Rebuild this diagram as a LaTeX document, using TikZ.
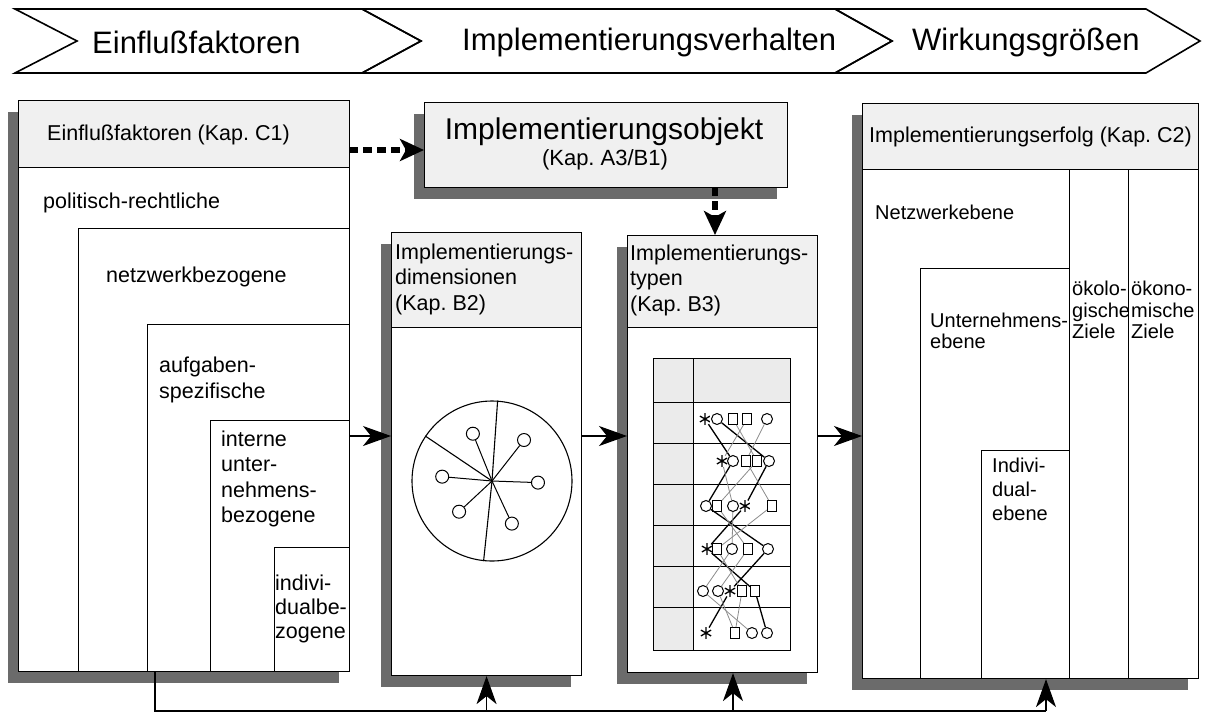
\documentclass[tikz,border=0pt]{standalone}
\usepackage{fontspec}
\setmainfont{Liberation Sans}
\usetikzlibrary{arrows.meta}
\usetikzlibrary{shadows}

\tikzset{
  kasten/.style={draw, line width=1.1pt, fill=white, inner sep=0pt, anchor=north west,
    drop shadow={shadow xshift=-11pt, shadow yshift=-11pt, fill=black!58, opacity=1}},
  kopf/.style={draw, line width=1.1pt, fill=black!6, inner sep=0pt, anchor=north west},
  feld/.style={draw, line width=1.1pt, inner sep=0pt, anchor=north west},
  titel/.style={inner sep=0pt, anchor=west, font=\fontsize{31}{31}\selectfont},
  txt/.style={inner sep=0pt, anchor=west, align=left, font=\fontsize{21.5}{25.5}\selectfont},
  txtr/.style={inner sep=0pt, anchor=west, align=left, font=\fontsize{20}{21.5}\selectfont},
  pfeil/.style={line width=1.2pt, -{Stealth[length=28pt,width=20pt,inset=8pt]}},
  strich/.style={line width=6pt, dash pattern=on 9pt off 5pt, -{Stealth[length=24pt,width=22pt,inset=6pt]}},
  linie/.style={line width=1.2pt},
  sat/.style={circle, draw, line width=1pt, fill=white, inner sep=0pt, minimum size=13pt},
  symk/.style={circle, draw, line width=1pt, fill=white, inner sep=0pt, minimum size=11pt},
  symq/.style={rectangle, draw, line width=1pt, fill=white, inner sep=0pt, minimum width=9pt, minimum height=11pt},
  syms/.style={circle, inner sep=0pt, minimum size=12pt, path picture={
    \draw[line width=1.3pt] (path picture bounding box.center) +(90:6pt) -- +(270:6pt)
      +(30:6pt) -- +(210:6pt) +(150:6pt) -- +(330:6pt);}},
  dick/.style={line width=1.3pt, black},
  duenn/.style={line width=0.8pt, black!45}
}

\begin{document}
\begin{tikzpicture}[x=1pt,y=-1pt]
\useasboundingbox (0,0) rectangle (1205,716);
% draw banner
\draw[line width=1.6pt] (15,9) -- (362,9) -- (421,41) -- (362,73) -- (15,73) -- (77,41) -- cycle;
\draw[line width=1.6pt] (362,9) -- (835,9) -- (892,41) -- (835,73) -- (362,73) -- (421,41) -- cycle;
\draw[line width=1.6pt] (835,9) -- (1146,9) -- (1200,41) -- (1146,73) -- (835,73) -- (892,41) -- cycle;
\node[titel] (b1) at (92,42) {Einflußfaktoren};
\node[titel] (b2) at (462,42) {Implementierungsverhalten};
\node[titel] (b3) at (912,42) {Wirkungsgrößen};

% left box
\node[kasten, minimum width=331pt, minimum height=571pt] (einfl) at (18,100) {};
\node[kopf, minimum width=331pt, minimum height=67pt] (einflkopf) at (18,100) {};
\node[feld, minimum width=271pt, minimum height=443pt] (netz) at (78,228) {};
\node[feld, minimum width=202pt, minimum height=347pt] (aufg) at (147,324) {};
\node[feld, minimum width=139pt, minimum height=251pt] (intern) at (210,420) {};
\node[feld, minimum width=75pt, minimum height=124pt] (indiv) at (274,547) {};
\node[txt] (t1) at (47,135) {Einflußfaktoren (Kap.\ C1)};
\node[txt] (t2) at (43,203) {politisch-rechtliche};
\node[txt] (t3) at (106,277) {netzwerkbezogene};
\node[txt] (t4) at (159,380) {aufgaben-\\spezifische};
\node[txt] (t5) at (221,479) {interne\\unter-\\nehmens-\\bezogene};
\node[txt, font=\fontsize{21.5}{24}\selectfont] (t6) at (275,609) {indivi-\\dualbe-\\zogene};

% object box
\node[kasten, fill=black!6, minimum width=363pt, minimum height=85pt] (objekt) at (424,102) {};
\node[inner sep=0pt, font=\fontsize{30}{30}\selectfont] (t7) at (604,132) {Implementierungsobjekt};
\node[inner sep=0pt, font=\fontsize{22}{22}\selectfont] (t8) at (605,160) {(Kap.\ A3/B1)};

% middle boxes
\node[kasten, minimum width=190pt, minimum height=443pt] (dim) at (391,232) {};
\node[kopf, minimum width=190pt, minimum height=95pt] (dimkopf) at (391,232) {};
\node[txt] (t9) at (395,279) {Implementierungs-\\dimensionen\\(Kap.\ B2)};
\node[kasten, minimum width=190pt, minimum height=437pt] (typen) at (627,235) {};
\node[kopf, minimum width=190pt, minimum height=92pt] (typenkopf) at (627,235) {};
\node[txt] (t10) at (630,280) {Implementierungs-\\typen\\(Kap.\ B3)};

% right box
\node[kasten, minimum width=336pt, minimum height=575pt] (erfolg) at (862,103) {};
\node[kopf, minimum width=336pt, minimum height=66pt] (erfolgkopf) at (862,103) {};
\node[feld, minimum width=59pt, minimum height=509pt] (oekol) at (1069,169) {};
\node[feld, minimum width=70pt, minimum height=509pt] (oekon) at (1128,169) {};
\node[feld, minimum width=149pt, minimum height=410pt] (unter) at (920,268) {};
\node[feld, minimum width=88pt, minimum height=228pt] (individ) at (981,450) {};
\node[txt, font=\fontsize{21.5}{21.5}\selectfont] (t11) at (869,137) {Implementierungserfolg (Kap.\ C2)};
\node[txtr] (t12) at (875,212) {Netzwerkebene};
\node[txtr] (t13) at (930,331) {Unternehmens-\\ebene};
\node[txtr] (t14) at (1072,310) {ökolo-\\gische\\Ziele};
\node[txtr] (t15) at (1131,310) {ökono-\\mische\\Ziele};
\node[txtr, font=\fontsize{20}{24}\selectfont] (t16) at (992,489) {Indivi-\\dual-\\ebene};

% draw circle with dimensions
\node[circle, draw, line width=1.1pt, minimum size=160pt, inner sep=0pt] (kreis) at (492,481) {};
\draw[line width=1.1pt] (kreis.center) -- (kreis.86) (kreis.center) -- (kreis.264) (kreis.center) -- (kreis.146);
\foreach \w/\r [count=\i] in {112/51, 52/52, 175/50, 358/46, 223/45, 295/47} {
  \node[sat] (s\i) at ([shift={(kreis.center)}]-\w:\r) {};
  \draw[line width=1pt] (kreis.center) -- (s\i);
}

% draw grid with types
\fill[black!8] (653,358) rectangle (693,650);
\fill[black!8] (693,358) rectangle (790,402);
\draw[line width=1pt] (653,358) rectangle (790,650);
\draw[line width=1pt] (693,358) -- (693,650);
\foreach \y in {402,443,484,525,566,607} \draw[line width=1pt] (653,\y) -- (790,\y);
\foreach \y/\reihe [count=\r] in {419/{s/705,k/717,q/733,q/747,k/767}, 461/{s/722,k/733,q/746,q/757,k/769},
    506/{k/706,q/717,k/733,s/745,q/772}, 549/{s/707,q/717,k/732,q/748,k/768},
    591/{k/703,k/718,s/730,q/742,q/755}, 633/{s/706,q/735,k/752,k/767}}
  \foreach \t/\x [count=\i] in \reihe
    \node[sym\t] (p\r-\i) at (\x,\y) {};
\foreach \a/\b/\c/\d/\e/\f/\art in {1/2/1/5/3/1/dick, 2/5/4/1/5/4/dick, 4/1/3/3/1/3/duenn, 3/4/2/4/2/2/duenn, 5/3/5/2/4/2/duenn}
  \draw[\art] (p1-\a) -- (p2-\b) -- (p3-\c) -- (p4-\d) -- (p5-\e) -- (p6-\f);

% draw arrows
\coordinate (d1) at (349,150);
\draw[strich] (d1) -- (d1 -| objekt.west);
\coordinate (d2) at (715,187);
\draw[strich] (d2) -- (d2 |- typen.north);
\coordinate (a1) at (349,436);
\draw[pfeil] (a1) -- (a1 -| dim.west);
\draw[pfeil] (a1 -| dim.east) -- (a1 -| typen.west);
\draw[pfeil] (a1 -| typen.east) -- (a1 -| erfolg.west);

% feedback line
\coordinate (fb) at (155,711);
\coordinate (r2) at (733,711);
\coordinate (r3) at (1046,711);
\draw[linie] (fb |- einfl.south) -- (fb) -- (r3);
\draw[pfeil] (fb -| dim.south) -- (dim.south);
\draw[pfeil] (r2) -- (r2 |- typen.south);
\draw[pfeil] (r3) -- (r3 |- erfolg.south);
\end{tikzpicture}
\end{document}
